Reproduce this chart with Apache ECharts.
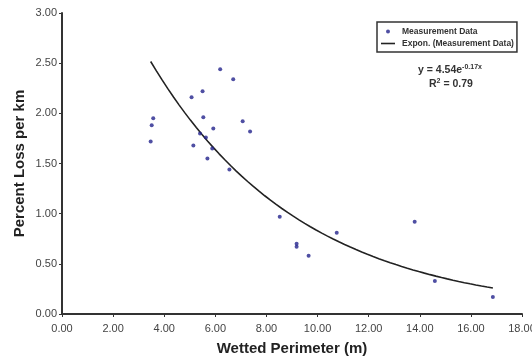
<!DOCTYPE html>
<html>
<head>
<meta charset="utf-8">
<script src="https://cdn.jsdelivr.net/npm/echarts@6/dist/echarts.min.js"></script>
<style>
  html, body { margin: 0; padding: 0; background: #fff; }
  #chart { width: 532px; height: 360px; }
</style>
</head>
<body>
<div id="chart"></div>
<script>
// Wetted perimeter (m) of each measured reach
const wettedPerimeter = [
  3.47, 3.51, 3.57, 5.07, 5.14, 5.40, 5.50, 5.53, 5.63, 5.69, 5.88, 5.92,
  6.19, 6.55, 6.70, 7.07, 7.36, 8.52, 9.18, 9.18, 9.65, 10.75, 13.80, 14.59, 16.86
];
// Percent loss per km for the same reaches
const percentLoss = [
  1.72, 1.88, 1.95, 2.16, 1.68, 1.80, 2.22, 1.96, 1.76, 1.55, 1.65, 1.85,
  2.44, 1.44, 2.34, 1.92, 1.82, 0.97, 0.70, 0.67, 0.58, 0.81, 0.92, 0.33, 0.17
];
// Exponential trend fit: y = a * e^(b x)
const fitA = 4.54;
const fitB = -0.17;
const fitR2 = 0.79;
const xTicks = [0, 2, 4, 6, 8, 10, 12, 14, 16, 18];
const yTicks = [0, 0.5, 1, 1.5, 2, 2.5, 3];

const scatterData = wettedPerimeter.map((x, i) => [x, percentLoss[i]]);
const xMinData = Math.min(...wettedPerimeter);
const xMaxData = Math.max(...wettedPerimeter);
const trendData = [];
const steps = 60;
for (let i = 0; i <= steps; i++) {
  const x = xMinData + (xMaxData - xMinData) * i / steps;
  trendData.push([x, fitA * Math.exp(fitB * x)]);
}

const font = '"Liberation Sans", Arial, sans-serif';
const chart = echarts.init(document.getElementById('chart'), null, { renderer: 'canvas' });
chart.setOption({
  animation: false,
  backgroundColor: '#ffffff',
  grid: { left: 62, right: 10, top: 13, bottom: 46, containLabel: false, outerBoundsMode: 'none' },
  xAxis: {
    type: 'value',
    min: xTicks[0], max: xTicks[xTicks.length - 1], interval: 2,
    name: 'Wetted Perimeter (m)',
    nameLocation: 'middle', nameGap: 27, nameMoveOverlap: false,
    nameTextStyle: { fontFamily: font, fontWeight: 'bold', fontSize: 15, color: '#222' },
    axisLine: { show: true, lineStyle: { color: '#333', width: 2 } },
    axisTick: { show: true, length: 3, lineStyle: { color: '#333', width: 1 } },
    axisLabel: { fontFamily: font, fontSize: 11, color: '#444', margin: 9,
      showMinLabel: true, showMaxLabel: true,
      formatter: v => v.toFixed(2) },
    splitLine: { show: false }
  },
  yAxis: {
    type: 'value',
    min: yTicks[0], max: yTicks[yTicks.length - 1], interval: 0.5,
    name: 'Percent Loss per km',
    nameLocation: 'middle', nameGap: 35, nameRotate: 90, nameMoveOverlap: false,
    nameTextStyle: { fontFamily: font, fontWeight: 'bold', fontSize: 15, color: '#222' },
    axisLine: { show: true, lineStyle: { color: '#333', width: 2 } },
    axisTick: { show: true, length: 3, lineStyle: { color: '#333', width: 1 } },
    axisLabel: { fontFamily: font, fontSize: 11, color: '#444', margin: 5,
      formatter: v => v.toFixed(2) },
    splitLine: { show: false }
  },
  legend: {
    orient: 'vertical',
    left: 377, top: 22,
    padding: [5, 3, 4, 4],
    itemGap: 3,
    itemWidth: 14, itemHeight: 4,
    borderColor: '#333', borderWidth: 1.5,
    backgroundColor: '#fff',
    textStyle: { fontFamily: font, fontSize: 8.5, fontWeight: 'bold', color: '#333', padding: [0, 0, 0, 2] },
    data: [
      { name: 'Measurement Data', icon: 'circle', itemStyle: { color: '#23238c' } },
      { name: 'Expon. (Measurement Data)', icon: 'path://M0,0H14V1.6H0Z', itemStyle: { color: '#222' } }
    ]
  },
  graphic: [
    {
      type: 'text', left: 418, top: 64,
      style: {
        text: '{b|y = 4.54e}{s|-0.17x}',
        rich: {
          b: { fontFamily: font, fontSize: 10.5, fontWeight: 'bold', fill: '#333' },
          s: { fontFamily: font, fontSize: 7, fontWeight: 'bold', fill: '#333', verticalAlign: 'top', padding: [0, 0, 6, 0] }
        }
      }
    },
    {
      type: 'text', left: 429, top: 78,
      style: {
        text: '{b|R}{s|2}{b| = 0.79}',
        rich: {
          b: { fontFamily: font, fontSize: 10.5, fontWeight: 'bold', fill: '#333' },
          s: { fontFamily: font, fontSize: 7, fontWeight: 'bold', fill: '#333', verticalAlign: 'top', padding: [0, 0, 6, 0] }
        }
      }
    }
  ],
  series: [
    {
      name: 'Measurement Data',
      type: 'scatter',
      data: scatterData,
      symbol: 'circle',
      symbolSize: 4,
      itemStyle: { color: '#23238c' },
      z: 3
    },
    {
      name: 'Expon. (Measurement Data)',
      type: 'line',
      data: trendData,
      showSymbol: false,
      symbol: 'none',
      smooth: false,
      lineStyle: { color: '#222', width: 1.6 },
      itemStyle: { color: '#222' },
      z: 2
    }
  ]
});
</script>
</body>
</html>
